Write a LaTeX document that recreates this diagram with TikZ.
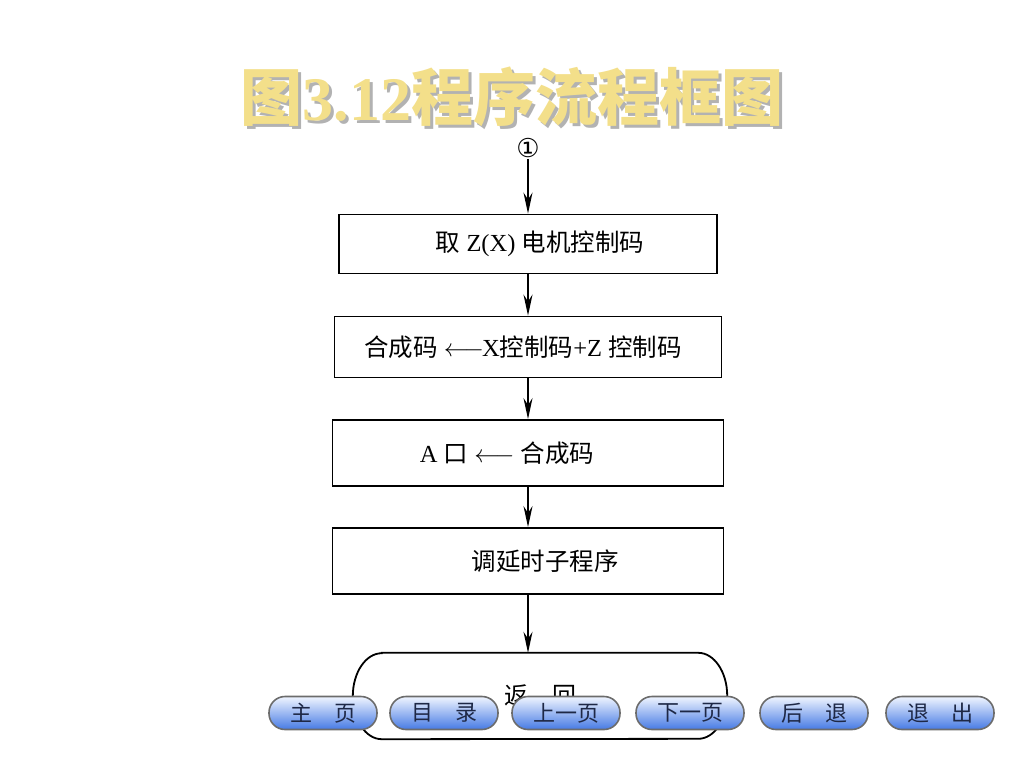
\documentclass[tikz,border=0pt]{standalone}
\usepackage{fontspec}
\setmainfont{Liberation Serif}
\newfontfamily\cjk{Noto Sans CJK SC}
\newfontfamily\sym{DejaVu Sans}
\usetikzlibrary{arrows.meta}
\definecolor{titlegold}{RGB}{243,223,138}
\definecolor{btnblue}{RGB}{70,122,228}
\definecolor{btnlight}{RGB}{240,245,255}
\definecolor{btntext}{RGB}{30,40,70}

\begin{document}
\begin{tikzpicture}[x=1pt,y=-1pt]
	\tikzstyle{box} = [draw=black, line width=1.8pt, inner sep=0pt, font=\fontsize{24.5}{28}\selectfont]
	\tikzstyle{flow} = [line width=1.6pt, -{Stealth[length=21pt,width=9pt]}]
	\tikzstyle{btn} = [draw=gray!85!black, line width=1.6pt, rounded corners=16pt, minimum width=108pt, minimum height=33pt, top color=btnlight, bottom color=btnblue, text=btntext, font=\cjk\fontsize{22}{24}\selectfont]

	\useasboundingbox (0,0) rectangle (1024,768);

%------------------------------------------------------------
	\node[text=gray!60, font=\bfseries\fontsize{62}{66}\selectfont] (title_shadow) at (515,100) {{\cjk 图}3.12{\cjk 程序流程框图}};
	\node[text=titlegold, font=\bfseries\fontsize{62}{66}\selectfont] (title) at (512,97) {{\cjk 图}3.12{\cjk 程序流程框图}};

	\node[inner sep=1pt, font=\sym\fontsize{26}{28}\selectfont] (one) at (528,148) {①};

%------------------------------------------------------------

	\node[box, minimum width=378pt, minimum height=59pt] (box1) at (528,244) {\hspace*{24pt}{\cjk 取} Z(X) {\cjk 电机控制码}};
	\node[box, minimum width=387pt, minimum height=61pt] (box2) at (528,347) {{\cjk 合成码} $\longleftarrow$\hspace{-2pt}X{\cjk 控制码}+Z {\cjk 控制码}\hspace*{10pt}};
	\node[box, minimum width=391pt, minimum height=66pt] (box3) at (528,453) {A {\cjk 口} $\longleftarrow$ {\cjk 合成码}\hspace*{42pt}};
	\node[box, minimum width=391pt, minimum height=66pt] (box4) at (528,561) {\hspace*{34pt}{\cjk 调延时子程序}};

	\node[minimum width=374pt, minimum height=86pt, font=\cjk\fontsize{24}{28}\selectfont] (ret) at (540,696) {返\quad 回};
	\draw[line width=1.8pt] ([xshift=29pt]ret.north west) -- ([xshift=-29pt]ret.north east)
		arc[start angle=90, end angle=-90, x radius=29pt, y radius=43pt]
		-- ([xshift=29pt]ret.south west)
		arc[start angle=270, end angle=90, x radius=29pt, y radius=43pt] -- cycle;

%------------------------------------------------------------

	\draw[flow] (one) -- (box1);
	\draw[flow] (box1) -- (box2);
	\draw[flow] (box2) -- (box3);
	\draw[flow] (box3) -- (box4);
	\draw[flow] (box4) -- (box4.south |- ret.north);

%------------------------------------------------------------

	\node[btn] (home) at (323,713) {主\quad 页};
	\node[btn] (toc) at (444,713) {目\quad 录};
	\node[btn] (prev) at (566,713) {上一页};
	\node[btn] (next) at (690,713) {下一页};
	\node[btn] (back) at (814,713) {后\quad 退};
	\node[btn] (quit) at (940,713) {退\quad 出};

\end{tikzpicture}
\end{document}
